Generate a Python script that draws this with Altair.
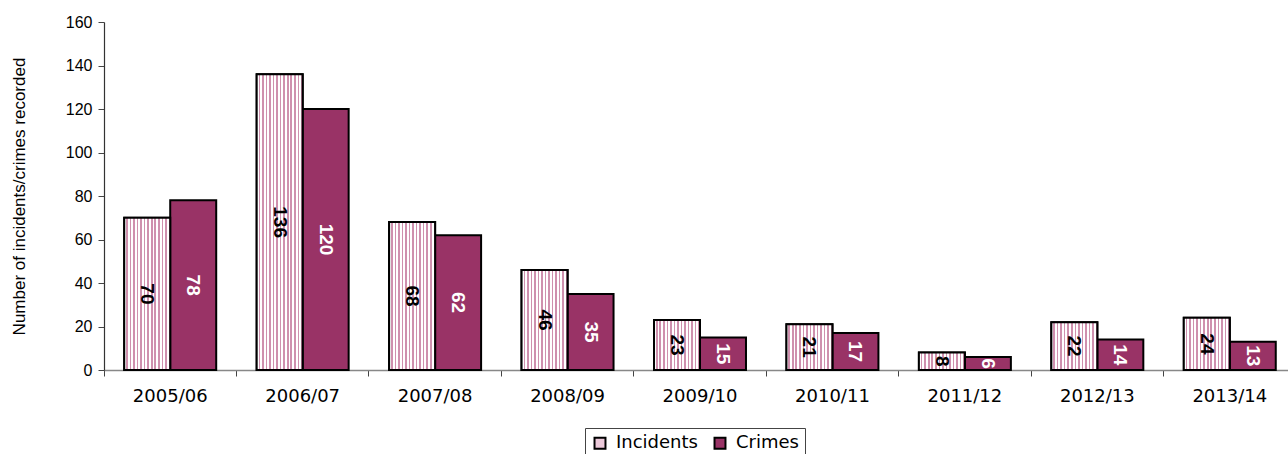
import altair as alt
import pandas as pd

# Recorded incidents and crimes per financial year
years = ["2005/06", "2006/07", "2007/08", "2008/09", "2009/10",
         "2010/11", "2011/12", "2012/13", "2013/14"]
incidents = [70, 136, 68, 46, 23, 21, 8, 22, 24]
crimes = [78, 120, 62, 35, 15, 17, 6, 14, 13]
series = ["Incidents", "Crimes"]
y_ticks = [0, 20, 40, 60, 80, 100, 120, 140, 160]

rows = []
for yr, inc, cr in zip(years, incidents, crimes):
    rows.append({"year": yr, "series": "Incidents", "value": inc})
    rows.append({"year": yr, "series": "Crimes", "value": cr})
df = pd.DataFrame(rows)

MAROON = "#993366"
PINK_LIGHT = "#ecc9da"
DOT = "#cf90ae"
FONT = "Liberation Sans"
WIDE = "DejaVu Sans"

# visible plot area; the category axis runs slightly past the right edge
W, H = 1184, 348
X_SPAN = 1192

# dotted fill for the Incidents bars, approximated by fine vertical stripes
ncol = 13
stops = []
for k in range(ncol):
    a, b, c = k / ncol, (k + 0.55) / ncol, (k + 1) / ncol
    stops += [
        alt.GradientStop(offset=a, color="white"),
        alt.GradientStop(offset=b, color="white"),
        alt.GradientStop(offset=b, color=DOT),
        alt.GradientStop(offset=c, color=DOT),
    ]
dotted = alt.LinearGradient(gradient="linear", stops=stops, x1=0, x2=1, y1=0, y2=0)

x_enc = alt.X(
    "year:N", sort=years, title=None,
    scale=alt.Scale(paddingInner=0, paddingOuter=0, range=[0, X_SPAN]),
    axis=alt.Axis(
        labelAngle=0, bandPosition=0,
        labelFont=WIDE, labelFontSize=18, labelColor="#000", labelPadding=11,
        tickSize=6, tickColor="#444", domainColor="#888", domainWidth=1.5,
    ),
)
xo_enc = alt.XOffset("series:N", sort=series,
                     scale=alt.Scale(paddingInner=0, paddingOuter=0.44))
y_enc = alt.Y(
    "value:Q",
    scale=alt.Scale(domain=[0, 160]),
    axis=alt.Axis(
        values=y_ticks, grid=False, title="Number of incidents/crimes recorded",
        titleFont=FONT, titleFontSize=17, titleFontWeight="normal", titleColor="#000",
        titlePadding=37,
        labelFont=FONT, labelFontSize=16, labelColor="#000", labelPadding=6,
        tickSize=6, tickColor="#444", domainColor="#333", domainWidth=1.2,
    ),
)

base = alt.Chart(df)

bars = base.mark_bar(stroke="black", strokeWidth=2).encode(
    x=x_enc, xOffset=xo_enc, y=y_enc,
    color=alt.Color(
        "series:N", sort=series, title=None,
        scale=alt.Scale(domain=series, range=[PINK_LIGHT, MAROON]),
        legend=alt.Legend(
            orient="none", legendX=481, legendY=406, direction="horizontal",
            symbolType="square", symbolSize=120, symbolStrokeColor="black",
            symbolStrokeWidth=2, labelFont=WIDE, labelFontSize=18, labelColor="#000",
            strokeColor="#444", padding=6, columnPadding=12, labelOffset=7,
        ),
    ),
)

dotted_bars = base.transform_filter(alt.datum.series == "Incidents").mark_bar(
    fill=dotted, stroke="black", strokeWidth=2
).encode(x=x_enc, xOffset=xo_enc, y=y_enc)

mid = base.transform_calculate(mid="datum.value / 2")
y_mid = alt.Y("mid:Q", scale=alt.Scale(domain=[0, 160]))

labels_inc = mid.transform_filter(alt.datum.series == "Incidents").mark_text(
    angle=90, align="center", baseline="middle", font=FONT,
    fontSize=19, fontWeight="bold", color="black",
).encode(x=x_enc, xOffset=xo_enc, y=y_mid, text="value:Q")

labels_cr = mid.transform_filter(alt.datum.series == "Crimes").mark_text(
    angle=90, align="center", baseline="middle", font=FONT,
    fontSize=19, fontWeight="bold", color="white",
).encode(x=x_enc, xOffset=xo_enc, y=y_mid, text="value:Q")

chart = alt.layer(bars, dotted_bars, labels_inc, labels_cr).properties(
    width=W, height=H,
    padding={"left": 104, "top": 22, "right": 0, "bottom": 84},
    autosize=alt.AutoSizeParams(type="none"),
    background="white",
).configure_view(stroke=None)

chart.save("out.html", embed_options={"renderer": "svg", "actions": False})
